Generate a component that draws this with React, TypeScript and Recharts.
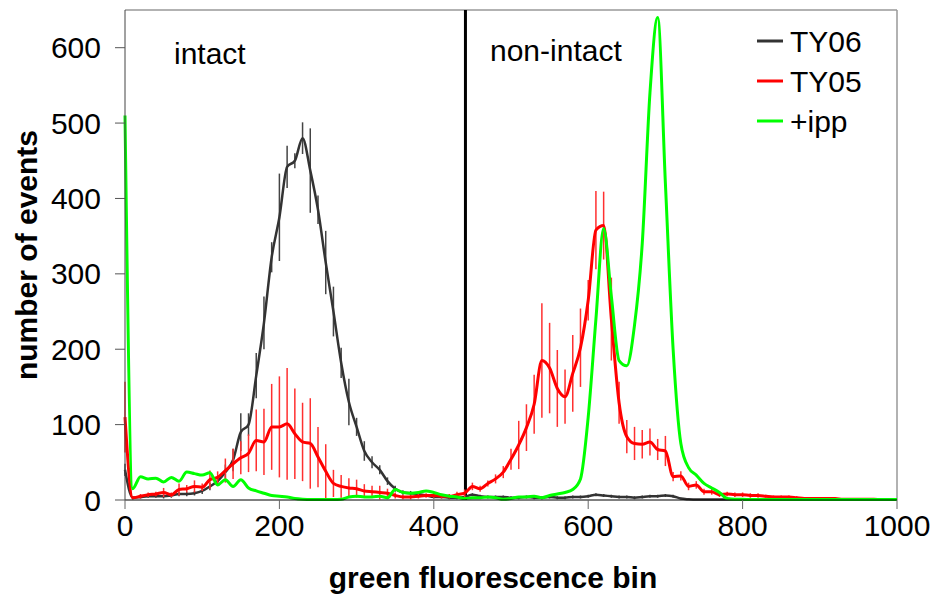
import { CartesianGrid, ErrorBar, Line, LineChart, ReferenceLine, XAxis, YAxis } from "recharts";

const FONT = '"Liberation Sans", Arial, sans-serif';

const bins = [
  0, 10, 20, 30, 40, 50, 60, 70, 80, 90, 100, 110, 120, 130, 140, 150, 160, 170, 180, 190,
  200, 210, 220, 230, 240, 250, 260, 270, 280, 290, 300, 310, 320, 330, 340, 350, 360, 370, 380, 390,
  400, 410, 420, 430, 440, 450, 460, 470, 480, 490, 500, 510, 520, 530, 540, 550, 560, 570, 580, 590,
  600, 610, 620, 630, 640, 650, 660, 670, 680, 690, 700, 710, 720, 730, 740, 750, 760, 770, 780, 790,
  800, 810, 820, 830, 840, 850, 860, 870, 880, 890, 900, 910, 920, 930, 940, 950, 960, 970, 980, 990,
  1000,
];

// TY06 (dark grey) with error bars
const ty06 = [
  40, 3, 4, 5, 5, 5, 6, 8, 8, 9, 12, 18, 25, 37, 53, 90, 100, 165, 235, 322,
  375, 442, 450, 480, 437, 385, 315, 250, 182, 130, 97, 65, 50, 40, 25, 15, 10, 9, 8, 6,
  4, 4, 3, 3, 4, 7, 5, 4, 4, 4, 3, 3, 4, 3, 3, 4, 3, 3, 4, 4,
  5, 7, 6, 5, 4, 4, 3, 4, 5, 5, 6, 5, 2, 1, 0.5, 0.5, 0.5, 0.5, 0.5, 0.5,
  0.5, 0.5, 0.5, 0.5, 0.5, 0.5, 0.5, 0.5, 0.5, 0.5, 0.5, 0.5, 0.5, 0.5, 0.5, 0.5, 0.5, 0.5, 0.5, 0.5,
  0.5,
];
const ty06Err = [
  8, 2, 2, 2, 2, 3, 3, 3, 3, 3, 4, 5, 5, 10, 15, 25, 15, 30, 35, 20,
  58, 28, 10, 21, 56, 19, 42, 33, 20, 31, 12, 13, 8, 6, 5, 4, 3, 3, 3, 2,
  2, 2, 2, 2, 2, 2, 2, 2, 2, 2, 2, 2, 2, 2, 2, 2, 2, 2, 2, 2,
  2, 2, 2, 2, 2, 2, 2, 2, 2, 2, 2, 2, 1, 1, 0, 0, 0, 0, 0, 0,
  0, 0, 0, 0, 0, 0, 0, 0, 0, 0, 0, 0, 0, 0, 0, 0, 0, 0, 0, 0,
  0,
];

// TY05 (red) with error bars
const ty05 = [
  110, 3, 5, 7, 8, 10, 7, 14, 15, 18, 17, 27, 30, 39, 48, 56, 62, 79, 77, 97,
  97, 101, 88, 77, 75, 57, 38, 22, 18, 16, 15, 12, 11, 10, 9, 6, 4, 4, 5, 6,
  6, 5, 5, 7, 9, 18, 15, 22, 28, 37, 54, 73, 96, 127, 185, 175, 148, 137, 168, 202,
  265, 358, 364, 240, 129, 84, 75, 74, 77, 67, 65, 31, 32, 18, 20, 11, 11, 7, 8, 7,
  7, 6, 6, 5, 4, 4, 4, 3, 2, 2, 2, 2, 2, 1, 1, 1, 1, 1, 0.5, 0.5,
  0.5,
];
const ty05Err = [
  47, 2, 3, 3, 3, 6, 3, 8, 5, 8, 5, 12, 8, 16, 20, 22, 25, 41, 44, 57,
  67, 74, 60, 52, 60, 40, 36, 18, 15, 13, 12, 9, 8, 9, 6, 4, 3, 3, 3, 3,
  3, 3, 3, 4, 5, 5, 4, 4, 6, 8, 14, 32, 31, 39, 76, 60, 51, 36, 51, 52,
  27, 52, 45, 55, 28, 22, 22, 19, 18, 14, 20, 6, 6, 5, 5, 4, 4, 3, 3, 3,
  3, 3, 3, 2, 2, 2, 2, 2, 1, 1, 1, 1, 1, 1, 1, 1, 0, 0, 0, 0,
  0,
];

// +ipp (green)
const ipp = [
  510, 15, 31, 28, 29, 24, 30, 25, 37, 35, 33, 36, 20, 27, 18, 27, 16, 12, 9, 6,
  5, 4, 2, 1, 0.5, 0.5, 0.5, 0.5, 1, 4, 5, 4, 4, 5, 3, 14, 10, 9, 10, 12,
  10, 7, 5, 4, 2, 3, 3, 4, 3, 1, 2, 4, 4, 5, 3, 6, 8, 10, 14, 28,
  110, 240, 360, 270, 185, 178, 232, 340, 540, 640, 420, 200, 75, 43, 33, 22, 16, 10, 2, 1,
  1, 0.5, 0.5, 0.5, 0.5, 0.5, 0.5, 0.5, 0.5, 0.5, 0.5, 0.5, 0.5, 0.5, 0.5, 0.5, 0.5, 0.5, 0.5, 0.5,
  0.5,
];

const xTicks = [0, 200, 400, 600, 800, 1000];
const yTicks = [0, 100, 200, 300, 400, 500, 600];

const legendItems = [
  { name: "TY06", color: "#333333" },
  { name: "TY05", color: "#ff0000" },
  { name: "+ipp", color: "#00ff00" },
];

const data = bins.map((b, i) => ({
  bin: b,
  ty06: ty06[i],
  ty06Err: ty06Err[i],
  ty05: ty05[i],
  ty05Err: ty05Err[i],
  ipp: ipp[i],
}));

export default function App() {
  return (
    <div style={{ position: "absolute", left: 0, top: 0, width: 935, height: 601, background: "#fff" }}>
      <LineChart width={935} height={601} data={data} margin={{ top: 10, right: 38, bottom: 0, left: 0 }}>
        <CartesianGrid stroke="none" />
        <XAxis
          dataKey="bin"
          type="number"
          domain={[0, 1000]}
          ticks={xTicks}
          height={101}
          stroke="#000"
          tickSize={9}
          tickMargin={6}
          tick={{ fontSize: 30, fill: "#000", fontFamily: FONT }}
          tickLine={{ stroke: "#666" }}
        />
        <YAxis
          type="number"
          domain={[0, 650]}
          ticks={yTicks}
          width={125}
          stroke="#444"
          tickSize={10}
          tickMargin={14}
          tick={{ fontSize: 30, fill: "#000", fontFamily: FONT }}
          tickLine={{ stroke: "#555" }}
        />
        <ReferenceLine y={650} stroke="#999" strokeWidth={1.5} />
        <ReferenceLine x={1000} stroke="#999" strokeWidth={1.5} />
        <ReferenceLine x={441} stroke="#000" strokeWidth={3} />
        <Line
          dataKey="ty06"
          type="monotone"
          stroke="#333333"
          strokeWidth={2.5}
          dot={false}
          isAnimationActive={false}
        >
          <ErrorBar dataKey="ty06Err" direction="y" width={0} stroke="#444" strokeWidth={1.5} isAnimationActive={false} />
        </Line>
        <Line
          dataKey="ty05"
          type="monotone"
          stroke="#ff0000"
          strokeWidth={3}
          dot={false}
          isAnimationActive={false}
        >
          <ErrorBar dataKey="ty05Err" direction="y" width={0} stroke="#ff3030" strokeWidth={1.5} isAnimationActive={false} />
        </Line>
        <Line
          dataKey="ipp"
          type="monotone"
          stroke="#00ff00"
          strokeWidth={3}
          dot={false}
          isAnimationActive={false}
        />
      </LineChart>
      <svg
        width={935}
        height={601}
        style={{ position: "absolute", left: 0, top: 0, pointerEvents: "none" }}
        fontFamily={FONT}
      >
        <text x={174} y={64} fontSize={30} fill="#000">intact</text>
        <text x={490} y={61} fontSize={30} fill="#000">non-intact</text>
        {legendItems.map((it, i) => (
          <g key={it.name}>
            <line x1={757} x2={783} y1={41 + i * 40} y2={41 + i * 40} stroke={it.color} strokeWidth={3} />
            <text x={790} y={52 + i * 40} fontSize={30} fill="#000">{it.name}</text>
          </g>
        ))}
        <text x={493} y={588} fontSize={30} fontWeight="bold" textAnchor="middle" fill="#000">
          green fluorescence bin
        </text>
        <text
          x={37}
          y={255}
          fontSize={30}
          fontWeight="bold"
          textAnchor="middle"
          fill="#000"
          transform="rotate(-90 37 255)"
        >
          number of events
        </text>
      </svg>
    </div>
  );
}
